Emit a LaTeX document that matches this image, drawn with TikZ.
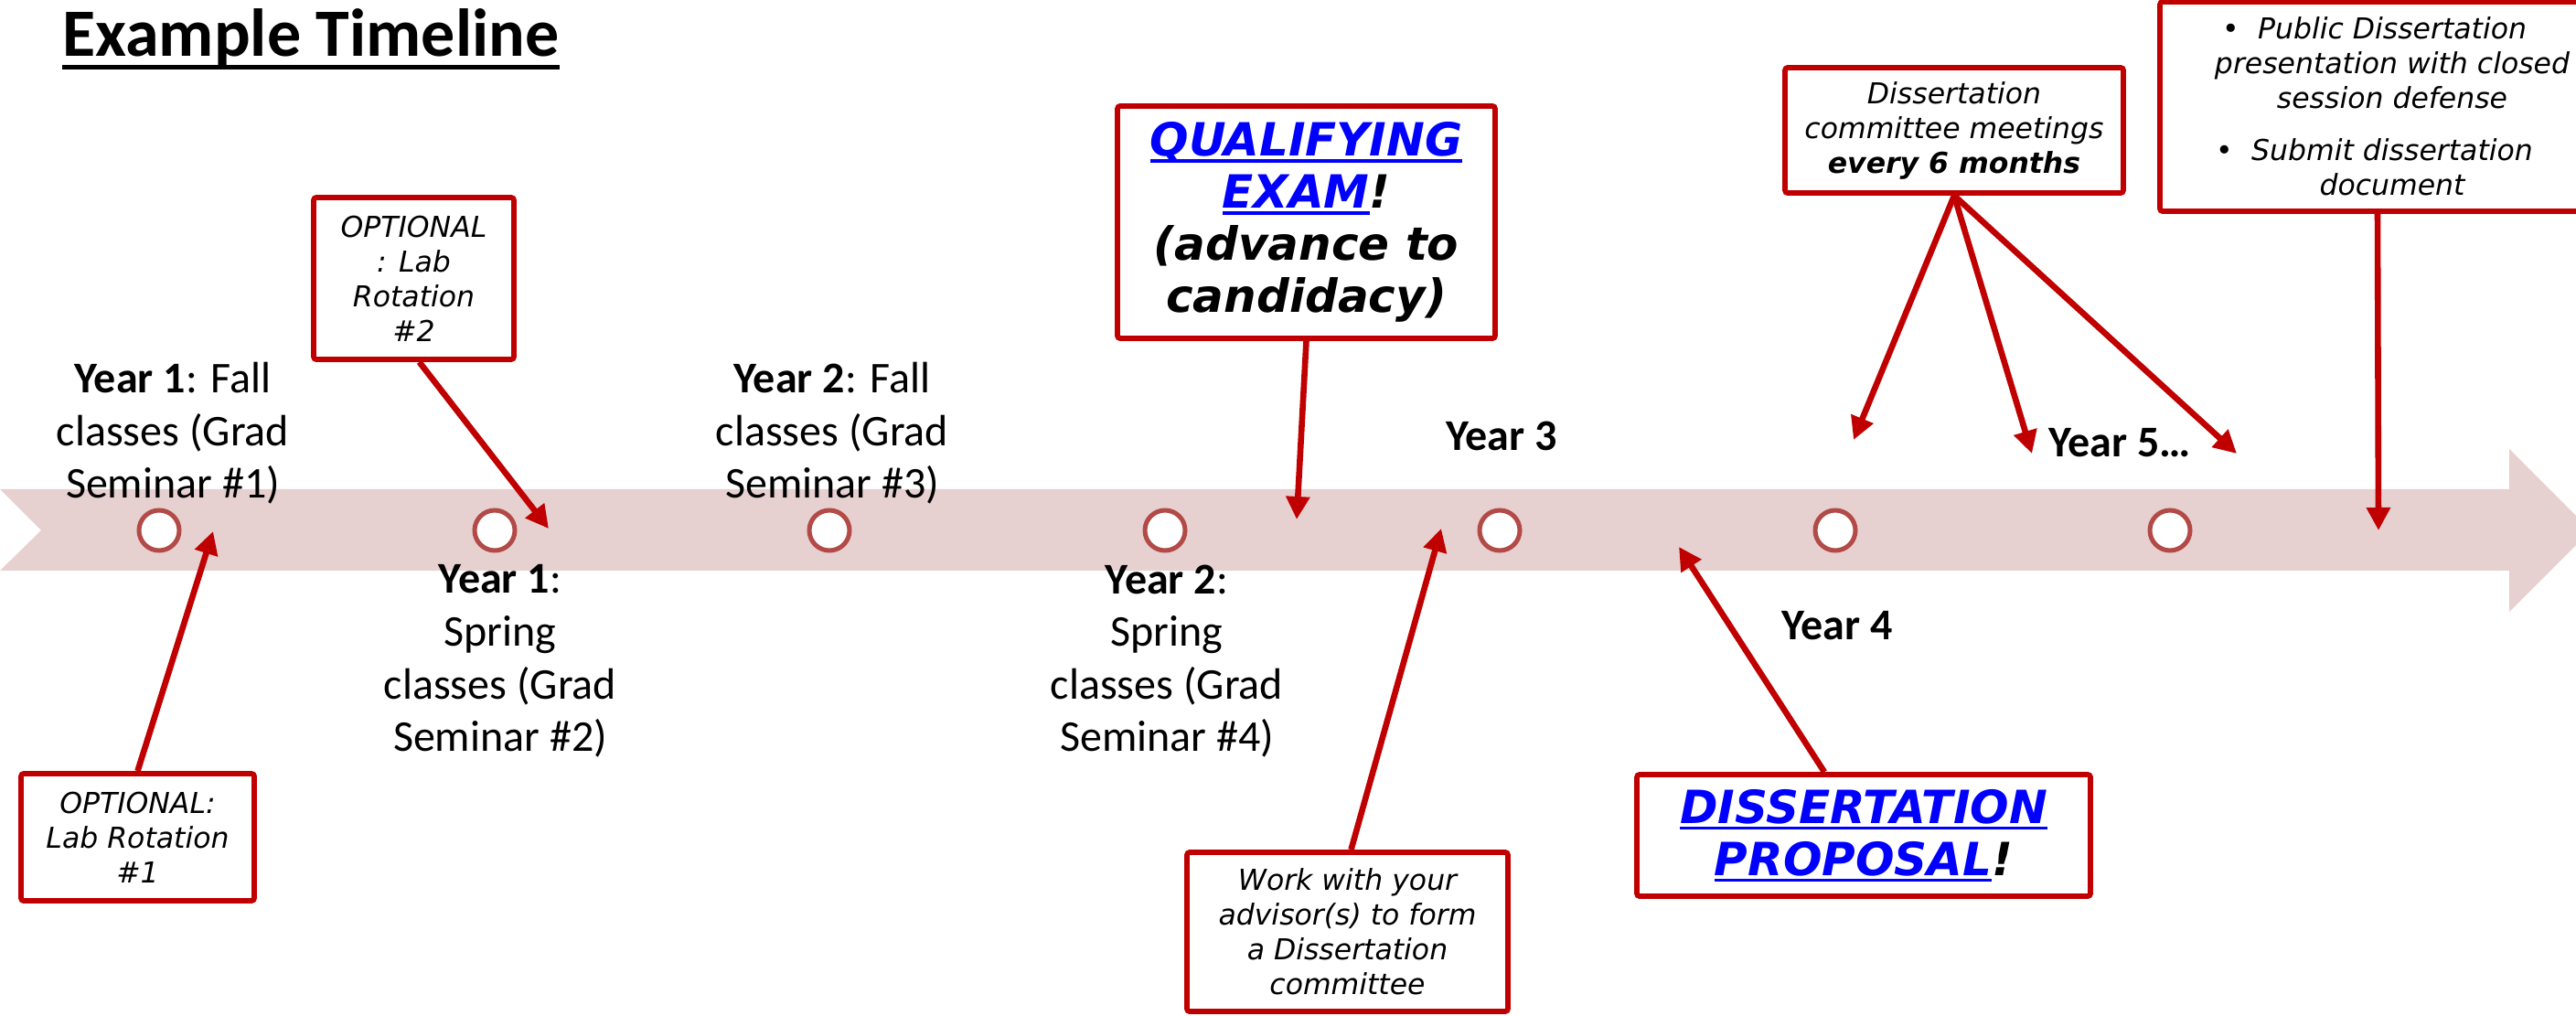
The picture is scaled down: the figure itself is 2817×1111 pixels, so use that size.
\documentclass[tikz,border=0pt]{standalone}
\usepackage{fontspec}
\setmainfont{Carlito}
\newfontfamily\verd{DejaVu Sans}
\usetikzlibrary{arrows.meta}
\definecolor{bandc}{RGB}{231,208,208}
\definecolor{boxred}{RGB}{192,0,0}
\definecolor{ringc}{RGB}{178,74,71}
\definecolor{linkblue}{RGB}{0,0,255}
\newsavebox\ulbox
\newcommand\myul[1]{\sbox\ulbox{#1}\rlap{\rule[-3.5pt]{\wd\ulbox}{1.6pt}}\usebox\ulbox}
\tikzset{
  boxst/.style={draw=boxred, line width=2.9pt, fill=white, rounded corners=1.5pt, inner sep=0pt, align=center},
  arr/.style={draw=boxred, line width=3.3pt, -{Triangle[length=12.5pt,width=12.5pt]}},
  dot/.style={circle, draw=ringc, line width=2.5pt, fill=white, minimum size=22pt, inner sep=0pt},
  lbl/.style={font=\fontsize{24}{28.8}\selectfont, align=center, inner sep=0pt},
  ylbl/.style={font=\bfseries\fontsize{24}{28.8}\selectfont, inner sep=0pt},
  itxt/.style={font=\verd\itshape\fontsize{15.75}{19}\selectfont},
  btxt/.style={font=\verd\bfseries\itshape\fontsize{25}{28.5}\selectfont},
}
\begin{document}
\begin{tikzpicture}[x=0.5pt, y=-0.5pt]
\useasboundingbox (0,0) rectangle (2817,1111);
\clip (0,0) rectangle (2817,1111);

% title
\node[inner sep=0pt, anchor=base west, font=\bfseries\fontsize{37}{44}\selectfont] (title) at (68,62) {Example Timeline};
\draw[line width=2.5pt] ([yshift=-6pt]title.base west) -- ([yshift=-6pt]title.base east);

% band
\fill[bandc] (0,535) -- (2744,535) -- (2744,491) -- (2833,580) -- (2744,669) -- (2744,624) -- (0,624) -- (45,580) -- cycle;

% circles
\foreach \i/\x in {1/174,2/541,3/907,4/1274,5/1640,6/2007,7/2373}
  \node[dot] (c\i) at (\x,580) {};

% year labels
\node[lbl] (t1) at (189,474) {{\bfseries Year 1}: Fall\\classes (Grad\\Seminar \#1)};
\node[lbl] (t2) at (910,474) {{\bfseries Year 2}: Fall\\classes (Grad\\Seminar \#3)};
\node[lbl] (t3) at (547,723) {{\bfseries Year 1}:\\Spring\\classes (Grad\\Seminar \#2)};
\node[lbl] (t4) at (1276,723) {{\bfseries Year 2}:\\Spring\\classes (Grad\\Seminar \#4)};
\node[ylbl] (y3) at (1642,477) {Year 3};
\node[ylbl] (y4) at (2009,684) {Year 4};
\node[ylbl] (y5) at (2318,484) {Year 5…};

% boxes
\node[boxst, itxt, minimum width=127.5pt, minimum height=69.5pt] (A) at (150.5,915.5) {OPTIONAL:\\Lab Rotation\\\#1};
\node[boxst, itxt, minimum width=109.5pt, minimum height=88.5pt] (B) at (452.5,304.5) {OPTIONAL\\: Lab\\Rotation\\\#2};
\node[boxst, btxt, minimum width=206.5pt, minimum height=127pt] (C) at (1428.5,243)
  {{\color{linkblue}\myul{QUALIFYING}}\\{\color{linkblue}\myul{EXAM}}!\\(advance to\\candidacy)};
\node[boxst, itxt, minimum width=175.5pt, minimum height=87pt] (D) at (1473.5,1019)
  {Work with your\\advisor(s) to form\\a Dissertation\\committee};
\node[boxst, btxt, minimum width=248pt, minimum height=66.5pt] (E) at (2038,913.5)
  {{\color{linkblue}\myul{DISSERTATION}}\\{\color{linkblue}\myul{PROPOSAL}}!};
\node[boxst, itxt, minimum width=185pt, minimum height=68.5pt] (F) at (2137,142.5)
  {Dissertation\\committee meetings\\{\bfseries every 6 months}};
\node[boxst, itxt, minimum width=254pt, minimum height=114.5pt] (G) at (2616,116.5)
  {\llap{\upshape•\hspace{10pt}}Public Dissertation\\presentation with closed\\session defense\\[9.5pt]\llap{\upshape•\hspace{10pt}}Submit dissertation\\document};

% arrow targets
\coordinate (pA) at (233,581);
\coordinate (pB) at (600,578);
\coordinate (pC) at (1418,568);
\coordinate (pD) at (1576,578);
\coordinate (pE) at (1836,598);
\coordinate (pF1) at (2027,481);
\coordinate (pF2) at (2222,496);
\coordinate (pF3) at (2446,496);
\coordinate (pG) at (2601,580);

% arrows
\draw[arr] (A.north) -- (pA);
\draw[arr] ([xshift=3pt]B.south) -- (pB);
\draw[arr] (C.south) -- (pC);
\draw[arr] ([xshift=2pt]D.north) -- (pD);
\draw[arr] ([xshift=-21.5pt]E.north) -- (pE);
\draw[arr] (F.south) -- (pF1);
\draw[arr] (F.south) -- (pF2);
\draw[arr] (F.south) -- (pF3);
\draw[arr] ([xshift=-8pt]G.south) -- (pG);
\end{tikzpicture}
\end{document}
